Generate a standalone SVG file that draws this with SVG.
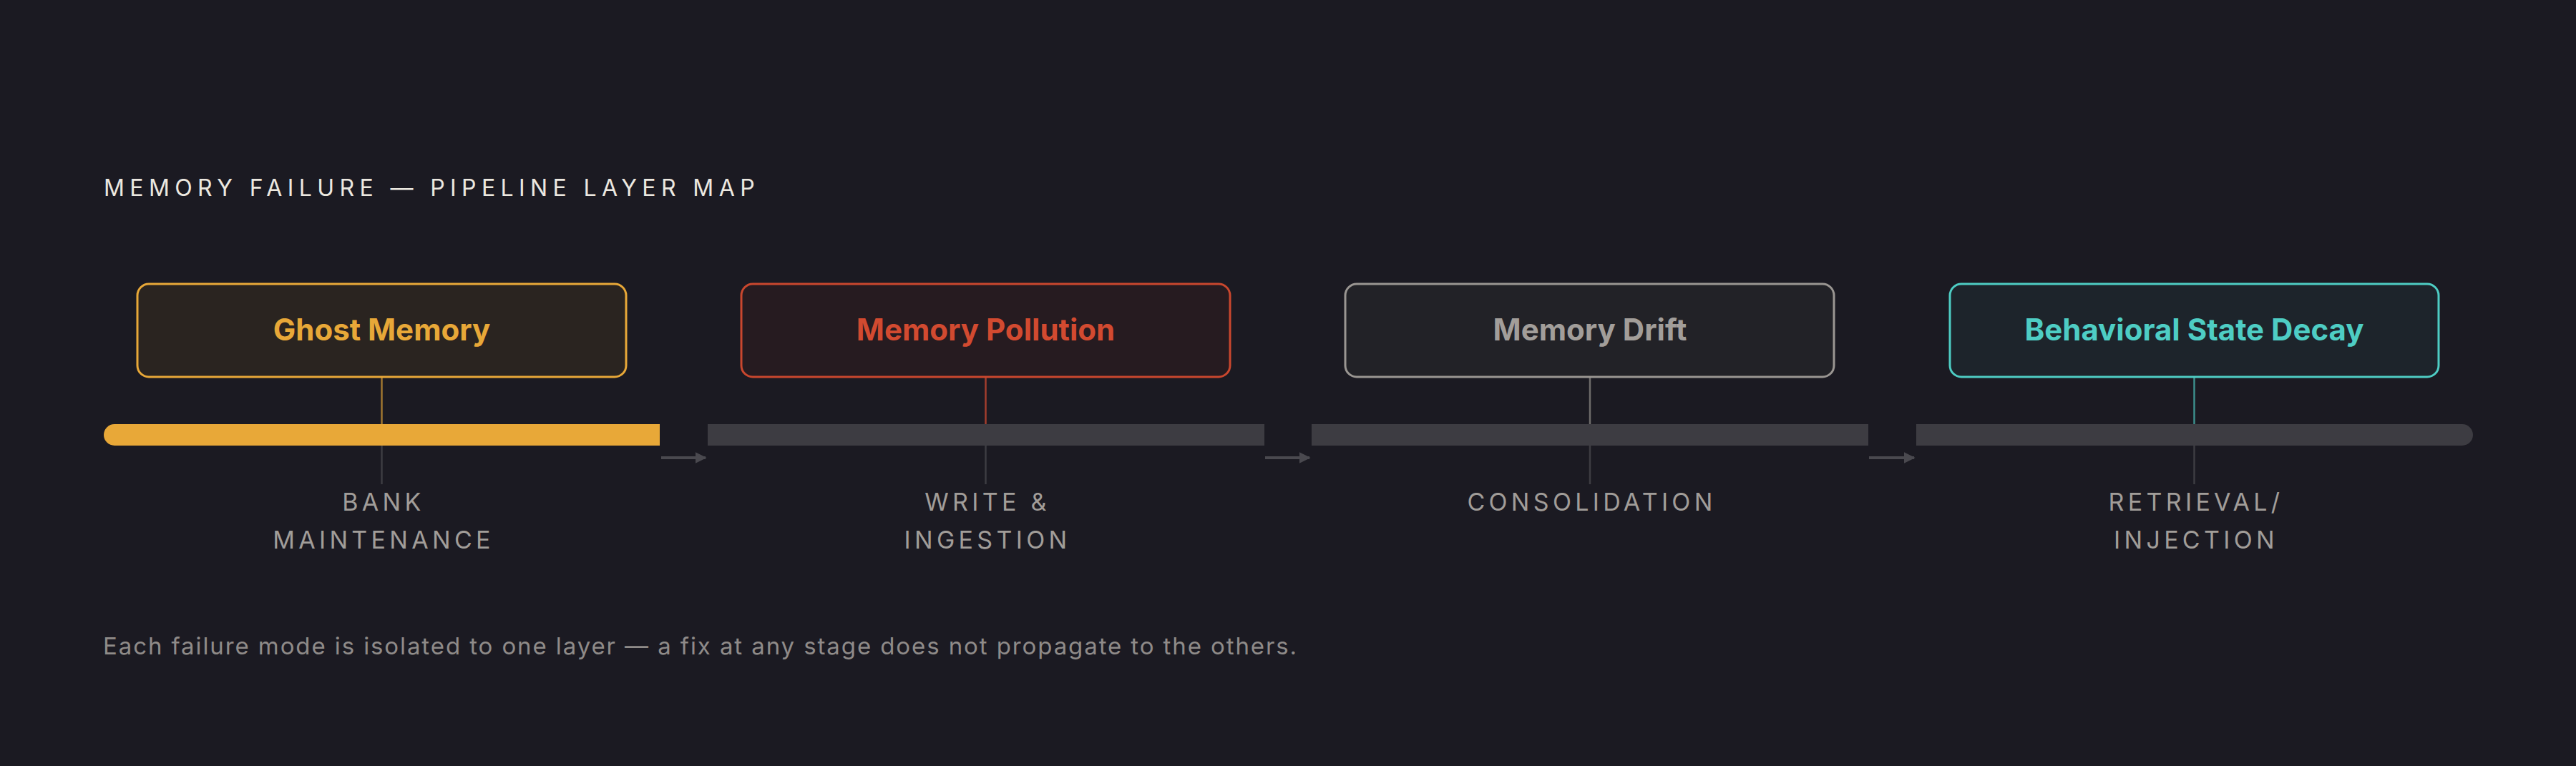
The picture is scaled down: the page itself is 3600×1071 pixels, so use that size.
<svg xmlns="http://www.w3.org/2000/svg" width="3600" height="1071" viewBox="0 0 3600 1071">
<defs>
<style>
.title{font-family:Inter,"Liberation Sans",sans-serif;font-size:32px;fill:#ece8e0;letter-spacing:7.4px}
.foot{font-family:Inter,"Liberation Sans",sans-serif;font-size:33px;fill:#8f8b89;letter-spacing:1.9px}
.lbl{font-family:Inter,"Liberation Sans",sans-serif;font-size:34px;fill:#a19d99;letter-spacing:5.3px;text-anchor:middle}
.name{font-family:Inter,"Liberation Sans",sans-serif;font-size:42px;font-weight:700;text-anchor:middle}
.box{stroke-width:3}
.bar{fill:#3d3c42}
.stem{stroke:#3d3c42;stroke-width:2.5}
.arr{stroke:#4a494f;stroke-width:4;fill:none}
</style>
<marker id="ah" viewBox="0 0 10 10" refX="9" refY="5" markerWidth="4" markerHeight="4" orient="auto" markerUnits="strokeWidth">
<path d="M0,0 L10,5 L0,10 Z" fill="#4a494f"/>
</marker>
</defs>
<rect width="3600" height="1071" fill="#1b1a22"/>
<text class="title" x="145" y="274">MEMORY FAILURE — PIPELINE LAYER MAP</text>

<g id="bars">
<path d="M160,593 H922 V623 H160 A15,15 0 0 1 160,593 Z" fill="#e8a838"/>
<rect class="bar" x="989" y="593" width="778" height="30"/>
<rect class="bar" x="1833" y="593" width="778" height="30"/>
<path class="bar" d="M2678,593 H3441 A15,15 0 0 1 3441,623 H2678 Z"/>
</g>

<g id="connectors">
<line x1="533.5" y1="528" x2="533.5" y2="593" stroke="#e8a838" stroke-opacity="0.65" stroke-width="2.5"/>
<line x1="1377.5" y1="528" x2="1377.5" y2="593" stroke="#d24a30" stroke-opacity="0.75" stroke-width="2.5"/>
<line x1="2222" y1="528" x2="2222" y2="593" stroke="#9a9692" stroke-opacity="0.65" stroke-width="2.5"/>
<line x1="3066.5" y1="528" x2="3066.5" y2="593" stroke="#4ecdc4" stroke-opacity="0.65" stroke-width="2.5"/>
<line class="stem" x1="533.5" y1="623" x2="533.5" y2="677"/>
<line class="stem" x1="1377.5" y1="623" x2="1377.5" y2="677"/>
<line class="stem" x1="2222" y1="623" x2="2222" y2="677"/>
<line class="stem" x1="3066.5" y1="623" x2="3066.5" y2="677"/>
<line class="arr" x1="924" y1="640" x2="986" y2="640" marker-end="url(#ah)"/>
<line class="arr" x1="1768" y1="640" x2="1830" y2="640" marker-end="url(#ah)"/>
<line class="arr" x1="2612" y1="640" x2="2675" y2="640" marker-end="url(#ah)"/>
</g>

<g id="node-ghost">
<rect class="box" x="192" y="397" width="683" height="130" rx="16" fill="#2a2420" stroke="#e8a838"/>
<text class="name" x="533.5" y="476" fill="#e8a838">Ghost Memory</text>
<text class="lbl" x="536" y="714">BANK</text>
<text class="lbl" x="536" y="767">MAINTENANCE</text>
</g>
<g id="node-pollution">
<rect class="box" x="1036" y="397" width="683" height="130" rx="16" fill="#261b20" stroke="#c9472e"/>
<text class="name" x="1377.5" y="476" fill="#d24a30">Memory Pollution</text>
<text class="lbl" x="1380" y="714">WRITE &amp;</text>
<text class="lbl" x="1380" y="767">INGESTION</text>
</g>
<g id="node-drift">
<rect class="box" x="1880" y="397" width="683" height="130" rx="16" fill="#222227" stroke="#9a9692"/>
<text class="name" x="2222" y="476" fill="#a29e9a">Memory Drift</text>
<text class="lbl" x="2224.5" y="714">CONSOLIDATION</text>
</g>
<g id="node-decay">
<rect class="box" x="2725" y="397" width="683" height="130" rx="16" fill="#1d242b" stroke="#4ecdc4"/>
<text class="name" x="3066.5" y="476" fill="#4ecdc4">Behavioral State Decay</text>
<text class="lbl" x="3069" y="714">RETRIEVAL/</text>
<text class="lbl" x="3069" y="767">INJECTION</text>
</g>

<text class="foot" x="144" y="915">Each failure mode is isolated to one layer — a fix at any stage does not propagate to the others.</text>
</svg>
